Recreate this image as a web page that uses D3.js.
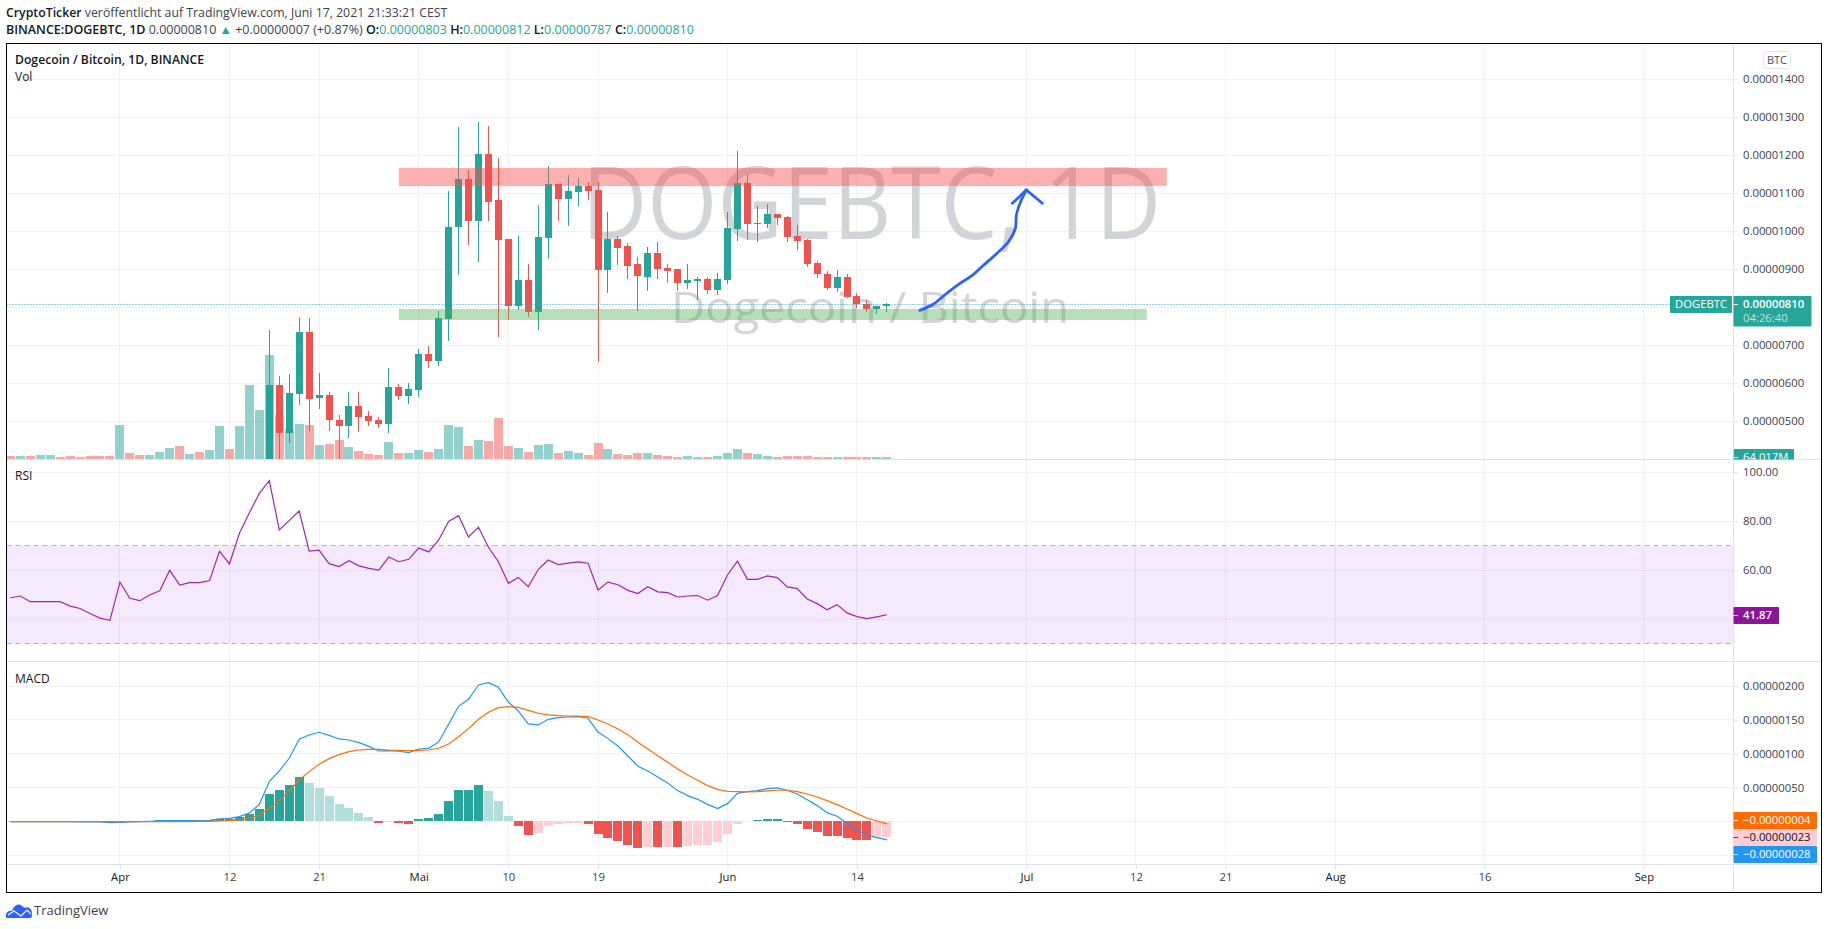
<!DOCTYPE html>
<html>
<head>
<meta charset="utf-8">
<title>DOGEBTC</title>
<script src="https://cdn.jsdelivr.net/npm/d3@7"></script>
<style>
  body { margin: 0; background: #fff; }
  svg { display: block; }
  text { font-family: "Open Sans", sans-serif; }
  .tick text { font-size: 11.3px; fill: #3a3e4a; }
</style>
</head>
<body>
<script>
// days are counted from 1 April 2021, first bar is 21 March
var firstDay = -11;
var firstCandleDay = 15;

var timeTicks = [0, 11, 20, 30, 39, 48, 61, 74, 91, 102, 111, 122, 137, 153];
var timeLabels = ['Apr', '12', '21', 'Mai', '10', '19', 'Jun', '14', 'Jul', '12', '21', 'Aug', '16', 'Sep'];

// prices in 0.00000001 BTC, from 16 April on (before that it is under the pane)
var opens = [390, 596, 470, 572, 735, 561, 569, 503.5, 488, 540, 514, 503.5, 493, 590, 567, 582.5, 677, 659, 769, 1011, 1138, 1027, 1203, 1082, 980, 803, 872, 788, 982, 1124, 1085, 1103, 1119, 1109, 898, 980, 961, 914, 880, 943, 903, 901, 864, 869, 874.5, 845.5, 872, 1006, 1127, 1019, 1019, 1045, 1037.6, 988, 977, 917, 888, 851, 880, 830, 809, 795.5, 803];
var closes = [596, 470, 574.5, 735, 559, 569, 503.5, 488, 540, 511, 501, 493, 590, 567, 585, 677, 659, 772, 1011, 1138, 1027, 1203, 1077, 977, 803, 872, 788, 985, 1124, 1085, 1106, 1119, 1106, 898, 980, 956, 909, 882, 943, 901, 895.5, 864, 872, 874.5, 845.5, 874.5, 1009, 1127, 1019, 1022, 1045, 1035, 985, 974.5, 914, 888, 851, 880, 827, 809, 795.5, 803, 810];
var highs = [740, 619, 624.5, 774.5, 772, 627, 577, 517, 577, 577, 527, 511, 640, 598, 601, 690, 698, 790, 1106, 1274, 1161, 1288, 1277, 1193, 980, 988, 914, 1069, 1172, 1124, 1148, 1140, 1130, 1130, 1051, 988, 969, 932, 959, 972, 914, 901, 914, 880, 880, 890, 1051, 1211, 1151, 1067, 1072, 1045, 1040, 1016.5, 980, 922, 895.5, 898, 888, 838, 819, 803, 812];
var lows = [380, 390, 444, 543, 475, 532, 475, 400, 456, 472, 488, 482, 469, 556, 546, 564, 640, 646, 711, 885, 964, 919, 1027, 722, 767, 793, 774, 740, 927, 1027, 1014, 1067, 1082, 656, 838, 911, 874, 790, 843, 874, 864, 843, 848, 819, 835, 832, 861, 974.5, 977, 972, 1009, 1016, 972, 951, 906, 877, 845.5, 840, 824, 798, 788, 782, 787];

// volume in millions, one value per day from firstDay
var volumes = [96, 96, 96, 128, 128, 64, 96, 64, 96, 96, 96, 1088, 192, 128, 128, 224, 352, 416, 160, 224, 288, 1056, 320, 1056, 2368, 1568, 3328, 1408, 960, 1120, 1088, 448, 480, 608, 384, 256, 160, 128, 544, 192, 192, 288, 224, 320, 1088, 1024, 416, 608, 576, 1312, 416, 352, 224, 448, 480, 192, 256, 192, 128, 512, 320, 160, 128, 192, 192, 128, 96, 64, 96, 64, 64, 96, 192, 320, 192, 160, 96, 64, 96, 96, 96, 64, 64, 64, 64, 64, 64, 64, 64];
// up or down for the days with no candle on screen
var earlyVolUp = [0, 1, 0, 1, 1, 0, 0, 0, 0, 0, 0, 1, 0, 0, 1, 1, 1, 0, 1, 0, 1, 1, 0, 1, 1, 1];

var rsi = [48.8, 49.5, 47.2, 47.2, 47.2, 47.2, 45.4, 44.4, 42.4, 40.5, 39.6, 55.1, 48.6, 47.6, 49.9, 51.6, 60, 54, 55, 55, 55.8, 67.8, 62.6, 75.1, 83.5, 91.4, 96.6, 76.5, 80.3, 84.2, 67.8, 68.2, 62.7, 61.5, 63.9, 61.8, 60.8, 60.1, 65.4, 63.5, 64.5, 69.1, 67.5, 72.4, 79.9, 82.3, 73.6, 77.6, 69.4, 63.5, 54.7, 57.1, 53.3, 60.3, 64.2, 62.3, 62.9, 63.4, 62.9, 52, 55.2, 54.1, 51.8, 50.5, 53.3, 51.2, 50.9, 49.1, 49.5, 49.7, 47.8, 49.7, 58.1, 63.7, 56.3, 56.3, 57.7, 57, 53.2, 52.5, 48.3, 46.4, 43.9, 46, 42.6, 41.1, 40.3, 41, 41.87];

// macd, also in 0.00000001 BTC
var macdLine = [-0.5, -0.5, -0.5, -0.5, -0.5, -0.5, -0.5, -1, -1, -1, -2, -1.5, -1, -0.5, 0, 0.5, 0.5, 1, 1, 1, 1.5, 3.5, 4.4, 6.9, 12.3, 25.1, 58.7, 74.5, 93.2, 121.3, 127.7, 131.7, 127.2, 121.8, 120.3, 116.4, 110.9, 104, 104.5, 103.6, 101.6, 107, 108, 117.4, 143.5, 170.1, 180.5, 201.7, 205.1, 198.2, 176.5, 163.2, 144, 142.5, 150.9, 153.4, 154.3, 154.8, 152.4, 132.1, 122.3, 111.4, 96.6, 81.4, 74.5, 65.6, 56.7, 45.4, 38, 32.5, 25.1, 18.7, 26.1, 41.4, 43.9, 45.4, 48.3, 49.3, 45.9, 40.4, 32, 23.2, 12.8, 7.4, -3, -12.8, -20.2, -24.2, -27.6];
var signalLine = [-0.5, -0.5, -0.5, -0.5, -0.5, -0.5, -0.5, -0.5, -0.5, -0.5, -0.5, -0.5, -0.5, -0.5, -0.5, -0.5, -0.5, -0.5, -0.5, 0, 0, 0.5, 1, 2, 4.9, 8.9, 19.2, 30.6, 44.9, 61.1, 73.5, 84.3, 92.7, 98.6, 103.1, 105.5, 106.5, 106.5, 105.5, 105, 104.5, 105, 105.5, 108, 114.4, 125.2, 137.1, 150.9, 161.2, 168.1, 169.6, 168.6, 164.2, 159.8, 157.3, 156.3, 155.8, 155.8, 154.8, 149.9, 144, 136.6, 128.2, 116.9, 107, 97.1, 87.3, 77.4, 68.5, 60.7, 52.8, 47.3, 44.4, 43.9, 43.4, 43.9, 44.9, 45.9, 45.9, 43.9, 40.4, 36, 30.6, 24.7, 18.2, 11.3, 4.9, 0.5, -3.9];
var histogram = [-0.6, -0.6, -0.7, -0.7, -0.7, -0.7, -0.8, -0.8, -0.8, -0.8, -0.9, 0.5, 0.6, 0.6, 0.7, 2.5, 2.5, 2.5, 2.5, 2.5, 2.5, 3.5, 4, 6.5, 10.5, 18, 41, 46, 53, 65, 56, 49, 37, 25, 19, 12, 6, -3, -1.5, -3, -4, 3, 4.5, 10.5, 30, 46, 46.2, 53, 45.5, 30, 8, -7, -20, -17, -7, -4, -2.5, -2.5, -4, -19, -25, -29, -35, -39.5, -38, -38.5, -38, -38.5, -36.5, -35, -35, -30.5, -19, -4, 1, 2.5, 4, 4.1, -1, -4, -11.5, -16, -22, -22.2, -25, -28, -28.2, -24, -23];

var priceTicks = [500, 600, 700, 900, 1000, 1100, 1200, 1300, 1400];
var priceGrid = [500, 600, 700, 800, 900, 1000, 1100, 1200, 1300, 1400];
var rsiTicks = [60, 80, 100];
var rsiGrid = [40, 60, 80, 100];
var macdTicks = [50, 100, 150, 200];
var macdGrid = [-50, 0, 50, 100, 150, 200];

// the drawn zones and the hand drawn arrow, [day, price]
var resistanceZone = [[28, 1166.6], [105.1, 1119]];
var supportZone = [[28, 795.5], [103.1, 766.6]];
var arrowStroke = [[80.3, 792], [81.7, 808.7], [82.8, 832.4], [84.2, 860.5], [85.5, 882.4], [86.7, 910.5], [87.9, 938.4], [89.2, 972.6], [89.9, 1007.9], [90, 1042.9], [90.5, 1082.4], [91, 1108.7]];
var arrowHead = [[89.6, 1073.7], [91, 1108.7], [92.6, 1073.7]];

var GREEN = '#26a69a', RED = '#ef5350';
var GREEN_LIGHT = '#b2dfdb', RED_LIGHT = '#ffcdd2';

var frameLeft = 6.5, frameRight = 1821.5, axisX = 1733.5;
var frameTop = 43.5, mainBottom = 459.5, rsiBottom = 661.5, macdBottom = 864.5, frameBottom = 892.5;

var svg = d3.select('body').append('svg')
  .attr('width', 1828)
  .attr('height', 929);

var x = d3.scaleLinear().domain([0, 61]).range([119.9, 727.5]);
var y = d3.scaleLinear().domain([500, 1400]).range([421.3, 79.3]);
var yVol = d3.scaleLinear().domain([0, 3328]).range([459, 355]);
var yRsi = d3.scaleLinear().domain([40, 100]).range([619.3, 472.3]);
var yMacd = d3.scaleLinear().domain([0, 200]).range([821.3, 686.1]);

function dayOf(i) { return firstDay + i; }
function snap(v) { return Math.round(v - 0.5) + 0.5; }

var defs = svg.append('defs');
defs.append('clipPath').attr('id', 'mainClip').append('rect')
  .attr('x', frameLeft).attr('y', frameTop).attr('width', axisX - frameLeft).attr('height', mainBottom - frameTop);
defs.append('clipPath').attr('id', 'axisClip').append('rect')
  .attr('x', axisX).attr('y', frameTop).attr('width', frameRight - axisX).attr('height', mainBottom - frameTop);

// grid
var grid = svg.append('g').attr('stroke', '#f0f1f4').attr('stroke-width', 1).attr('shape-rendering', 'crispEdges');
grid.selectAll('.v').data(timeTicks).enter().append('line')
  .attr('x1', function(d) { return snap(x(d)); })
  .attr('x2', function(d) { return snap(x(d)); })
  .attr('y1', frameTop).attr('y2', macdBottom);

function hGrid(vals, scale) {
  grid.selectAll(null).data(vals).enter().append('line')
    .attr('x1', frameLeft).attr('x2', axisX)
    .attr('y1', function(d) { return snap(scale(d)); })
    .attr('y2', function(d) { return snap(scale(d)); });
}
hGrid(priceGrid, y);
hGrid(rsiGrid, yRsi);
hGrid(macdGrid, yMacd);

// watermark
svg.append('text')
  .attr('x', 582).attr('y', 239)
  .attr('font-size', 100)
  .attr('textLength', 579)
  .attr('lengthAdjust', 'spacingAndGlyphs')
  .attr('fill', '#d3d4d8')
  .text('DOGEBTC, 1D');
svg.append('text')
  .attr('x', 671).attr('y', 323)
  .attr('font-size', 44.5)
  .attr('textLength', 398)
  .attr('lengthAdjust', 'spacingAndGlyphs')
  .attr('fill', '#d3d4d8')
  .text('Dogecoin / Bitcoin');

var main = svg.append('g').attr('clip-path', 'url(#mainClip)');

// volume
function volIsUp(i) {
  var c = dayOf(i) - firstCandleDay;
  if (c < 0) return earlyVolUp[i] == 1;
  return closes[c] >= opens[c];
}
main.append('g').selectAll('rect').data(volumes).enter().append('rect')
  .attr('shape-rendering', 'crispEdges')
  .attr('x', function(d, i) { return snap(x(dayOf(i))) - 4.5; })
  .attr('width', 9)
  .attr('y', function(d) { return yVol(d); })
  .attr('height', function(d) { return yVol(0) - yVol(d); })
  .attr('fill', function(d, i) { return volIsUp(i) ? 'rgba(38,166,154,0.5)' : 'rgba(239,83,80,0.5)'; });

// candles
var candles = main.append('g').attr('shape-rendering', 'crispEdges');
candles.selectAll('line').data(opens).enter().append('line')
  .attr('x1', function(d, i) { return snap(x(firstCandleDay + i)); })
  .attr('x2', function(d, i) { return snap(x(firstCandleDay + i)); })
  .attr('y1', function(d, i) { return y(highs[i]); })
  .attr('y2', function(d, i) { return y(lows[i]); })
  .attr('stroke', function(d, i) { return closes[i] >= d ? GREEN : RED; });
candles.selectAll('rect').data(opens).enter().append('rect')
  .attr('x', function(d, i) { return snap(x(firstCandleDay + i)) - 3.5; })
  .attr('width', 7)
  .attr('y', function(d, i) { return y(Math.max(d, closes[i])); })
  .attr('height', function(d, i) { return Math.max(1, Math.abs(y(d) - y(closes[i]))); })
  .attr('fill', function(d, i) { return closes[i] >= d ? GREEN : RED; });

// zones sit over the candles
function zone(pts, color) {
  main.append('rect')
    .attr('x', x(pts[0][0]))
    .attr('width', x(pts[1][0]) - x(pts[0][0]))
    .attr('y', y(pts[0][1]))
    .attr('height', y(pts[1][1]) - y(pts[0][1]))
    .attr('fill', color);
}
zone(resistanceZone, 'rgba(248,80,78,0.45)');
zone(supportZone, 'rgba(76,175,80,0.4)');

// last price line
var lastPrice = closes[closes.length - 1];
svg.append('line')
  .attr('x1', frameLeft).attr('x2', 1670)
  .attr('y1', snap(y(lastPrice)) + 1).attr('y2', snap(y(lastPrice)) + 1)
  .attr('stroke', GREEN)
  .attr('stroke-dasharray', '1 2');

// blue arrow
var arrowLine = d3.line()
  .x(function(d) { return x(d[0]); })
  .y(function(d) { return y(d[1]); })
  .curve(d3.curveCatmullRom);
var arrow = svg.append('g').attr('fill', 'none').attr('stroke', '#2962ff').attr('stroke-width', 2.8).attr('stroke-linecap', 'round');
arrow.append('path').attr('d', arrowLine(arrowStroke));
arrow.append('path').attr('d', arrowLine.curve(d3.curveLinear)(arrowHead));

// rsi pane
svg.append('rect')
  .attr('x', frameLeft).attr('width', axisX - frameLeft)
  .attr('y', yRsi(70)).attr('height', yRsi(30) - yRsi(70))
  .attr('fill', 'rgba(156,39,240,0.1)');
svg.selectAll('.rsiBound').data([70, 30]).enter().append('line')
  .attr('x1', frameLeft).attr('x2', axisX)
  .attr('y1', function(d) { return snap(yRsi(d)); })
  .attr('y2', function(d) { return snap(yRsi(d)); })
  .attr('stroke', '#b7aebd')
  .attr('stroke-dasharray', '5 4');
svg.append('path')
  .attr('d', d3.line()
    .x(function(d, i) { return x(dayOf(i)); })
    .y(function(d) { return yRsi(d); })(rsi))
  .attr('fill', 'none')
  .attr('stroke', '#9c27b0')
  .attr('stroke-width', 1.2);

// macd pane
function histColor(d, i) {
  var prev = i > 0 ? histogram[i - 1] : d;
  if (d >= 0) return d >= prev ? GREEN : GREEN_LIGHT;
  return d < prev ? RED : RED_LIGHT;
}
svg.append('g').attr('shape-rendering', 'crispEdges').selectAll('rect').data(histogram).enter().append('rect')
  .attr('x', function(d, i) { return snap(x(dayOf(i))) - 4.5; })
  .attr('width', 9)
  .attr('y', function(d) { return Math.min(yMacd(d), yMacd(0)); })
  .attr('height', function(d) { return Math.abs(yMacd(d) - yMacd(0)); })
  .attr('fill', histColor);
var macdPath = d3.line()
  .x(function(d, i) { return x(dayOf(i)); })
  .y(function(d) { return yMacd(d); });
svg.append('path').attr('d', macdPath(macdLine)).attr('fill', 'none').attr('stroke', '#2196f3').attr('stroke-width', 1.2);
svg.append('path').attr('d', macdPath(signalLine)).attr('fill', 'none').attr('stroke', '#ff6d00').attr('stroke-width', 1.2);

// pane separators
var seps = svg.append('g').attr('stroke', '#dfe1e6').attr('shape-rendering', 'crispEdges');
[mainBottom, rsiBottom, macdBottom].forEach(function(v) {
  seps.append('line').attr('x1', frameLeft).attr('x2', frameRight).attr('y1', v).attr('y2', v);
});
seps.append('line').attr('x1', axisX).attr('x2', axisX).attr('y1', frameTop).attr('y2', frameBottom);

// axes
function fmt8(v) { return (v / 1e8).toFixed(8); }
function rightAxis(scale, ticks, format) {
  var g = svg.append('g')
    .attr('transform', 'translate(' + axisX + ',0)')
    .call(d3.axisRight(scale).tickValues(ticks).tickFormat(format).tickSize(4.5).tickPadding(5));
  g.select('.domain').remove();
  g.selectAll('.tick line').attr('stroke', '#dfe1e6');
  return g;
}
rightAxis(y, priceTicks, fmt8);
rightAxis(yRsi, rsiTicks, function(d) { return d.toFixed(2); });
rightAxis(yMacd, macdTicks, fmt8);

var timeAxis = svg.append('g')
  .attr('transform', 'translate(0,' + macdBottom + ')')
  .call(d3.axisBottom(x).tickValues(timeTicks)
    .tickFormat(function(d, i) { return timeLabels[i]; })
    .tickSize(4.5).tickPadding(4));
timeAxis.select('.domain').remove();
timeAxis.selectAll('.tick line').attr('stroke', '#dfe1e6');
timeAxis.selectAll('.tick text')
  .style('fill', function(d, i) { return isNaN(+timeLabels[i]) ? '#131722' : '#3a3e4a'; });

// tags on the price scale
function tag(tx, ty, w, h, fill, label, color, g, weight) {
  var t = (g || svg).append('g');
  t.append('rect').attr('x', tx).attr('y', ty).attr('width', w).attr('height', h).attr('rx', 1).attr('fill', fill);
  t.append('line').attr('x1', tx).attr('x2', tx + 4.5).attr('y1', ty + 8.5).attr('y2', ty + 8.5).attr('stroke', color).attr('stroke-opacity', 0.8);
  t.append('text')
    .attr('x', tx + 9.5).attr('y', ty + h / 2)
    .attr('dy', '0.35em')
    .attr('font-size', 11.3)
    .attr('font-weight', weight || 400)
    .attr('fill', color)
    .text(label);
  return t;
}

svg.append('rect').attr('x', 1670).attr('y', 296).attr('width', 62).attr('height', 17).attr('rx', 1).attr('fill', GREEN);
svg.append('text').attr('x', 1675).attr('y', 304.5).attr('dy', '0.35em').attr('font-size', 11.3).attr('fill', '#fff').text('DOGEBTC');
svg.append('rect').attr('x', axisX).attr('y', 296).attr('width', 78).attr('height', 30.5).attr('rx', 1).attr('fill', GREEN);
svg.append('line').attr('x1', axisX).attr('x2', axisX + 4.5).attr('y1', 304.5).attr('y2', 304.5).attr('stroke', '#d8efec');
svg.append('text').attr('x', 1743).attr('y', 304.5).attr('dy', '0.35em').attr('font-size', 11.3).attr('font-weight', 600).attr('fill', '#fff').text(fmt8(lastPrice));
svg.append('text').attr('x', 1743).attr('y', 318).attr('dy', '0.35em').attr('font-size', 11.3).attr('fill', '#fff').attr('fill-opacity', 0.7).text('04:26:40');

var axisClipped = svg.append('g').attr('clip-path', 'url(#axisClip)');
tag(axisX, 449, 60.5, 17, GREEN, '64.017M', '#fff', axisClipped);

tag(axisX, 607, 45.5, 17, '#8e1599', '41.87', '#fff', null, 600);
tag(axisX, 812, 83.5, 17, '#ff6d00', '\u22120.00000004', '#fff');
tag(axisX, 829, 83.5, 17, '#ffcdd2', '\u22120.00000023', '#131722');
tag(axisX, 846, 83.5, 17, '#2196f3', '\u22120.00000028', '#fff');

// BTC unit button
svg.append('rect').attr('x', 1763.5).attr('y', 51.5).attr('width', 27).attr('height', 17).attr('rx', 3)
  .attr('fill', '#fff').attr('stroke', '#e0e3eb');
svg.append('text').attr('x', 1777).attr('y', 60).attr('dy', '0.35em').attr('text-anchor', 'middle').attr('font-size', 11).attr('fill', '#4a4e59').text('BTC');

// frame
svg.append('rect')
  .attr('x', frameLeft).attr('y', frameTop).attr('width', frameRight - frameLeft).attr('height', frameBottom - frameTop)
  .attr('fill', 'none').attr('stroke', '#000').attr('shape-rendering', 'crispEdges');

// titles
var title = svg.append('text').attr('x', 6).attr('y', 13).attr('dy', '0.35em').attr('font-size', 12.3).attr('fill', '#131722');
title.append('tspan').attr('font-weight', 600).text('CryptoTicker');
title.append('tspan').attr('fill', '#3d4250').text(' ver\u00f6ffentlicht auf TradingView.com, Juni 17, 2021 21:33:21 CEST');

var ohlc = svg.append('text').attr('x', 6).attr('y', 30).attr('dy', '0.35em').attr('font-size', 12.5).attr('fill', '#3d4250');
ohlc.append('tspan').attr('font-weight', 600).attr('fill', '#131722').text('BINANCE:DOGEBTC, 1D');
ohlc.append('tspan').text('  0.00000810 ');
ohlc.append('tspan').attr('fill', GREEN).text('\u25B2');
ohlc.append('tspan').text(' +0.00000007 (+0.87%) ');
[['O:', '0.00000803'], ['H:', '0.00000812'], ['L:', '0.00000787'], ['C:', '0.00000810']].forEach(function(p) {
  ohlc.append('tspan').attr('font-weight', 600).attr('fill', '#131722').text(p[0]);
  ohlc.append('tspan').attr('fill', GREEN).text(p[1] + ' ');
});

function legend(lx, ly, label, weight, size) {
  svg.append('text').attr('x', lx).attr('y', ly).attr('dy', '0.35em')
    .attr('font-size', size || 12).attr('font-weight', weight || 400).attr('fill', '#131722').text(label);
}
legend(15, 59.5, 'Dogecoin / Bitcoin, 1D, BINANCE', 600, 12.2);
legend(15, 77, 'Vol');
legend(15, 476, 'RSI');
legend(15, 678.7, 'MACD');

// logo
var logo = svg.append('g').attr('transform', 'translate(6,903)');
logo.append('path')
  .attr('d', 'M0,15 C-1,9 3,7 6,8 C8,2 13,0 16,3 L19,5 C22,3 26,6 26,10 C26,13 26,15 24,15 Z')
  .attr('fill', '#2962ff');
logo.append('path')
  .attr('d', 'M2,12 L8,8 L15,13 L21,7 L25,11')
  .attr('fill', 'none').attr('stroke', '#fff').attr('stroke-width', 1.2);
svg.append('text').attr('x', 34).attr('y', 910.7).attr('dy', '0.35em').attr('font-size', 13).attr('fill', '#3d4250').text('TradingView');
</script>
</body>
</html>
